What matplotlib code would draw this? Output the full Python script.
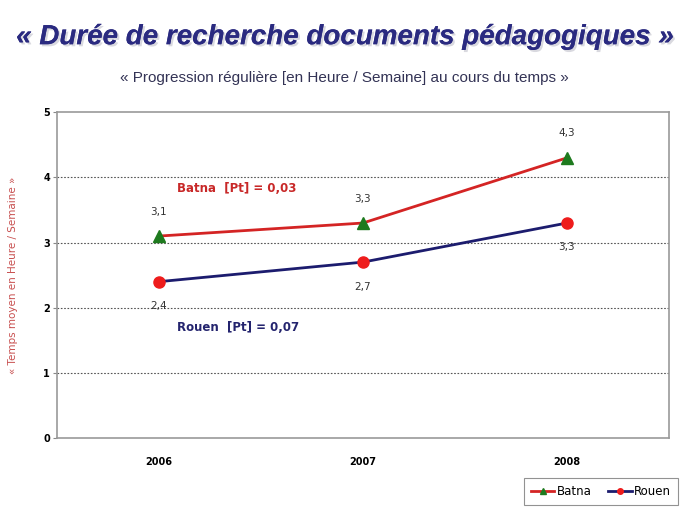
import matplotlib.pyplot as plt
import matplotlib.patheffects as pe

# Data
years = ['2006', '2007', '2008']
batna = [3.1, 3.3, 4.3]
rouen = [2.4, 2.7, 3.3]
yticks = [0, 1, 2, 3, 4, 5]

fig = plt.figure(figsize=(6.89, 5.17), dpi=100)
ax = fig.add_axes([0.0827, 0.1528, 0.888, 0.630])

x = range(len(years))
ax.plot(x, batna, color='#d42424', lw=2, marker='^', ms=8,
        mfc='#1e7a1e', mec='#1e7a1e', label='Batna', zorder=3)
ax.plot(x, rouen, color='#1c1c6e', lw=2, marker='o', ms=8,
        mfc='#ee1c1c', mec='#ee1c1c', label='Rouen', zorder=3)

# value labels
for i, v in enumerate(batna):
    ax.annotate(f'{v}'.replace('.', ','), (i, v), xytext=(0, 14),
                textcoords='offset points', ha='center', va='bottom',
                fontsize=7.5, color='#333333')
for i, v in enumerate(rouen):
    ax.annotate(f'{v}'.replace('.', ','), (i, v), xytext=(0, -14),
                textcoords='offset points', ha='center', va='top',
                fontsize=7.5, color='#333333')

ax.text(0.09, 3.83, 'Batna  [Pt] = 0,03', color='#c82828', fontsize=8.5,
        fontweight='bold', va='center')
ax.text(0.09, 1.69, 'Rouen  [Pt] = 0,07', color='#24246e', fontsize=8.5,
        fontweight='bold', va='center')

ax.set_xlim(-0.5, 2.5)
ax.set_ylim(0, 5)
ax.set_xticks(list(x))
ax.set_xticklabels(years, fontsize=7, fontweight='bold')
ax.set_yticks(yticks)
ax.set_yticklabels([str(t) for t in yticks], fontsize=7, fontweight='bold')
ax.tick_params(axis='x', length=0, pad=14)
ax.tick_params(axis='y', length=3, color='#888888', pad=2)

for t in [1, 2, 3, 4]:
    ax.axhline(t, color='#555555', lw=0.8, ls=(0, (1.5, 1.5)), zorder=1)
for s in ax.spines.values():
    s.set_color('#999999')
    s.set_linewidth(1.2)

ax.set_ylabel('« Temps moyen en Heure / Semaine »', color='#c85050',
              fontsize=7.5, labelpad=18)

leg = fig.legend(loc='lower right', bbox_to_anchor=(0.993, 0.012), ncol=2,
                 fontsize=8.5, frameon=True, fancybox=False, edgecolor='#777777',
                 handlelength=2.0, handletextpad=0.2, columnspacing=1.4,
                 borderpad=0.6, markerscale=0.5)
leg.get_frame().set_linewidth(0.8)

fig.text(0.5, 0.928, '« Durée de recherche documents pédagogiques »',
         ha='center', va='center', fontsize=20, fontweight='bold',
         fontstyle='italic', color='#2a2a80', family='Liberation Sans',
         path_effects=[pe.withSimplePatchShadow(offset=(1.5, -1.5), shadow_rgbFace='#a0a0b0', alpha=0.4),
                       pe.Normal()])
fig.text(0.5, 0.849, '« Progression régulière [en Heure / Semaine] au cours du temps »',
         ha='center', va='center', fontsize=11, color='#333355',
         family='Liberation Sans')

fig.savefig('out.png', dpi=100, facecolor='white')
